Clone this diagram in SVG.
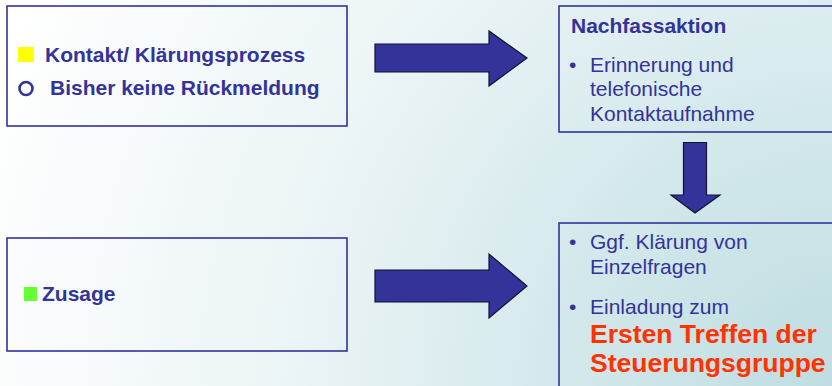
<svg xmlns="http://www.w3.org/2000/svg" width="832" height="386" viewBox="0 0 832 386">
<defs>
<radialGradient id="bg" cx="832" cy="386" r="900" gradientUnits="userSpaceOnUse">
<stop offset="0" stop-color="#bfdde2"/>
<stop offset="0.3" stop-color="#d3e8eb"/>
<stop offset="0.6" stop-color="#ebf4f6"/>
<stop offset="1" stop-color="#ffffff"/>
</radialGradient>
<style>
.box{fill:none;stroke:#333399;stroke-width:1.6}
.t{font-family:"Liberation Sans",Arial,sans-serif;font-size:21px;fill:#333399}
.b{font-weight:bold}
.red{font-family:"Liberation Sans",Arial,sans-serif;font-size:26.5px;font-weight:bold;fill:#ff3300}
.arrow{fill:#333399;stroke:#111133;stroke-width:1.2;stroke-linejoin:miter}
</style>
</defs>
<rect width="832" height="386" fill="url(#bg)"/>
<g id="node-status">
<rect class="box" x="7" y="6" width="340" height="120"/>
<rect x="18" y="47" width="16" height="15" fill="#ffff00"/>
<text class="t b" x="45" y="62">Kontakt/ Klärungsprozess</text>
<circle cx="26" cy="88.5" r="6.5" fill="none" stroke="#333399" stroke-width="2.6"/>
<text class="t b" x="50" y="94.5">Bisher keine Rückmeldung</text>
</g>
<g id="node-zusage">
<rect class="box" x="7" y="238" width="340" height="113"/>
<rect x="24" y="287" width="13" height="14" fill="#66ff33"/>
<text class="t b" x="42" y="300.5">Zusage</text>
</g>
<g id="node-nachfass">
<rect class="box" x="559" y="6" width="290" height="126"/>
<text class="t b" x="571" y="33">Nachfassaktion</text>
<text class="t" x="569" y="71.5" font-size="16">•</text>
<text class="t" x="590" y="71.5">Erinnerung und</text>
<text class="t" x="590" y="96.2">telefonische</text>
<text class="t" x="590" y="120.8">Kontaktaufnahme</text>
</g>
<g id="node-treffen">
<rect class="box" x="559" y="223" width="290" height="180"/>
<text class="t" x="569" y="249.3" font-size="16">•</text>
<text class="t" x="590" y="249.3">Ggf. Klärung von</text>
<text class="t" x="590" y="274">Einzelfragen</text>
<text class="t" x="569" y="314" font-size="16">•</text>
<text class="t" x="590" y="314">Einladung zum</text>
<text class="red" x="590" y="343">Ersten Treffen der</text>
<text class="red" x="590" y="372">Steuerungsgruppe</text>
</g>
<g id="connectors">
<polygon class="arrow" points="375,44 489,44 489,31 527,58 489,86 489,72 375,72"/>
<polygon class="arrow" points="375,270 489,270 489,254 527,286 489,318 489,302 375,302"/>
<polygon class="arrow" points="683.5,142.5 706.5,142.5 706.5,195 720,195 695,213 671,195 683.5,195"/>
</g>
</svg>
